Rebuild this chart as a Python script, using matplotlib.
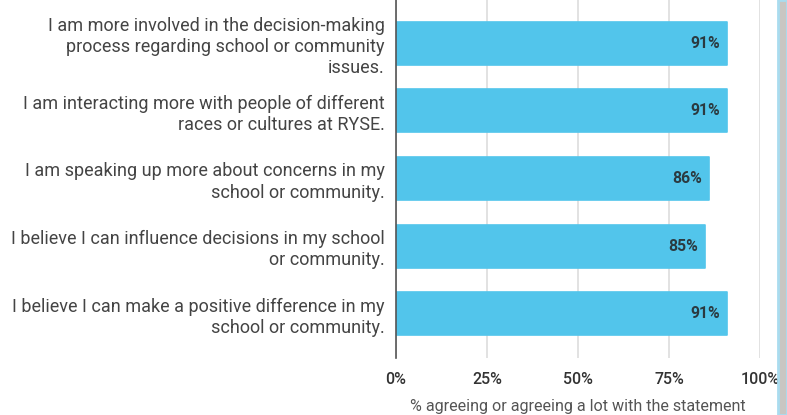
import matplotlib
matplotlib.use("Agg")
import matplotlib.pyplot as plt
from matplotlib.patches import Rectangle

categories = [
    "I am more involved in the decision-making\nprocess regarding school or community\nissues.",
    "I am interacting more with people of different\nraces or cultures at RYSE.",
    "I am speaking up more about concerns in my\nschool or community.",
    "I believe I can influence decisions in my school\nor community.",
    "I believe I can make a positive difference in my\nschool or community.",
]
values = [91, 91, 86, 85, 91]
tick_vals = [0, 25, 50, 75, 100]
tick_labels = ["0%", "25%", "50%", "75%", "100%"]
xlabel = "% agreeing or agreeing a lot with the statement"

plt.rcParams['font.family'] = ['Roboto', 'DejaVu Sans']

fig = plt.figure(figsize=(7.87, 4.15), dpi=100)
ax = fig.add_axes([396/787, 1 - 358/415, 364/787, 358/415])

ypos = list(range(len(values)))
ax.barh(ypos, values, height=0.637, color="#52C5EB", edgecolor="#52C5EB",
        linewidth=1.2, joinstyle="round", zorder=3)
for y, v in zip(ypos, values):
    ax.text(v - 2.0, y, f"{v}%", ha="right", va="center", fontsize=11.3,
            fontweight="bold", color="#2b3a40", zorder=4)

ax.set_xlim(0, 100)
ax.set_ylim(4.659, -0.644)
ax.set_yticks(ypos)
ax.set_yticklabels(categories, fontsize=13, color="#444444", linespacing=1.22)
ax.set_xticks(tick_vals)
ax.set_xticklabels(tick_labels, fontsize=11.5, color="#333333", fontweight="medium")
ax.tick_params(axis="y", length=0, pad=8)
ax.tick_params(axis="x", length=0, pad=10)
ax.grid(axis="x", color="#dddddd", linewidth=1.2, zorder=0)
for s in ["top", "right", "bottom"]:
    ax.spines[s].set_visible(False)
ax.spines["left"].set_color("#555555")
ax.spines["left"].set_linewidth(1.2)
ax.spines["left"].set_zorder(5)
ax.set_xlabel(xlabel, fontsize=11.6, color="#555555", labelpad=9)

# photo strip at right edge
fig.patches.append(Rectangle((778/787, 0), 9/787, 1, transform=fig.transFigure,
                             facecolor="#c9c6c2", edgecolor="#a9dcef", linewidth=2))

fig.savefig("out.png", dpi=100, facecolor="white")
